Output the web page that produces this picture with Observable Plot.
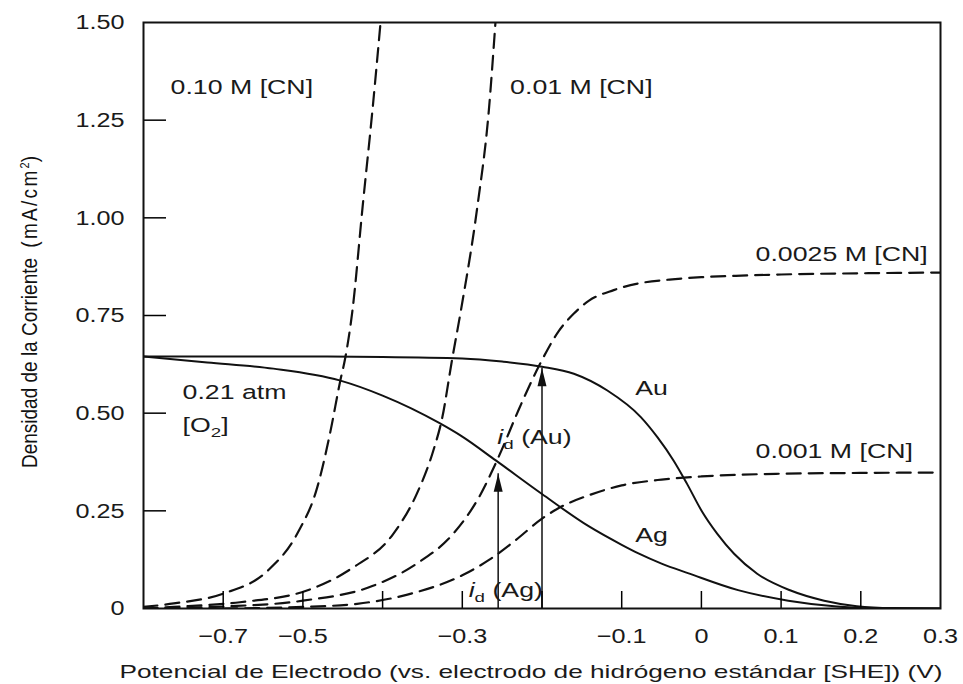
<!DOCTYPE html>
<html><head><meta charset="utf-8">
<script src="https://cdn.jsdelivr.net/npm/d3@7"></script>
<script src="https://cdn.jsdelivr.net/npm/@observablehq/plot@0.6"></script>
<style>
body{margin:0;background:#fff;}
#chart svg{background:#fff;}
#chart svg text{font-family:"Liberation Sans",Arial,Helvetica,sans-serif;}
</style>
</head><body><div id="chart"></div>
<script>
// ---- axis ticks & labels ----
const xTickValues = [-0.6, -0.5, -0.4, -0.3, -0.2, -0.1, 0, 0.1, 0.2];
const xLabelValues = [-0.6, -0.5, -0.3, -0.1, 0, 0.1, 0.2, 0.3];
const xLabelTexts = ["−0.7", "−0.5", "−0.3", "−0.1", "0", "0.1", "0.2", "0.3"];
const yTickValues = [0.25, 0.5, 0.75, 1.0, 1.25];
const yLabelValues = [0, 0.25, 0.5, 0.75, 1.0, 1.25, 1.5];
const yLabelTexts = ["0", "0.25", "0.50", "0.75", "1.00", "1.25", "1.50"];

// ---- O2 reduction curves (solid) ----
const auX = [-0.7, -0.6, -0.5, -0.4, -0.3, -0.25, -0.2, -0.16, -0.118, -0.076, -0.055, -0.035, -0.018, 0, 0.02, 0.041, 0.07, 0.112, 0.154, 0.195, 0.24, 0.3];
const auY = [0.645, 0.645, 0.645, 0.644, 0.64, 0.632, 0.619, 0.601, 0.558, 0.49, 0.438, 0.379, 0.319, 0.251, 0.191, 0.14, 0.089, 0.046, 0.02, 0.006, 0.001, 0];
const agX = [-0.7, -0.62, -0.537, -0.454, -0.4, -0.329, -0.3, -0.258, -0.2, -0.141, -0.1, -0.079, -0.05, -0.016, 0.046, 0.109, 0.17, 0.22, 0.3];
const agY = [0.645, 0.63, 0.614, 0.584, 0.545, 0.475, 0.44, 0.379, 0.293, 0.21, 0.163, 0.141, 0.115, 0.09, 0.047, 0.02, 0.005, 0.0, 0];

// ---- Au/Ag dissolution curves for [CN] (dashed) ----
const cn100X = [-0.7, -0.662, -0.6, -0.544, -0.507, -0.482, -0.466, -0.453, -0.447, -0.438, -0.425, -0.413, -0.4026, -0.39];
const cn100Y = [0.004, 0.013, 0.038, 0.097, 0.192, 0.31, 0.448, 0.584, 0.64, 0.76, 1.03, 1.27, 1.5, 1.8];
const cn010X = [-0.7, -0.662, -0.579, -0.495, -0.437, -0.387, -0.357, -0.337, -0.325, -0.313, -0.302, -0.281, -0.2667, -0.2584, -0.25];
const cn010Y = [0.0, 0.004, 0.016, 0.046, 0.105, 0.19, 0.294, 0.40, 0.49, 0.635, 0.76, 1.03, 1.275, 1.5, 1.75];
const cn0025X = [-0.7, -0.6, -0.5, -0.412, -0.357, -0.312, -0.279, -0.254, -0.229, -0.204, -0.179, -0.16, -0.141, -0.11, -0.079, -0.04, 0, 0.05, 0.1, 0.2, 0.3];
const cn0025Y = [0.0, 0.005, 0.02, 0.058, 0.115, 0.19, 0.285, 0.39, 0.51, 0.62, 0.71, 0.755, 0.788, 0.815, 0.832, 0.842, 0.848, 0.852, 0.855, 0.858, 0.86];
const cn0010X = [-0.6, -0.5, -0.432, -0.37, -0.3, -0.266, -0.233, -0.2, -0.18, -0.141, -0.1, -0.05, 0, 0.1, 0.2, 0.3];
const cn0010Y = [0.0, 0.004, 0.012, 0.035, 0.085, 0.125, 0.175, 0.23, 0.256, 0.29, 0.315, 0.33, 0.338, 0.345, 0.347, 0.348];

// ---- limiting-current arrows ----
const arrowNames = ["Au", "Ag"];
const arrowX = [-0.2, -0.255];
const arrowTip = [0.615, 0.345];

// ---- annotations ----
const annText = ["0.10 M [CN]", "0.01 M [CN]", "0.0025 M [CN]", "0.001 M [CN]", "0.21 atm", "[O_2]", "Au", "Ag", "i_d (Au)", "i_d (Ag)"];
const annX = [-0.666, -0.24, 0.068, 0.068, -0.651, -0.651, -0.083, -0.083, -0.256, -0.292];
const annY = [1.333, 1.333, 0.906, 0.40, 0.553, 0.468, 0.563, 0.187, 0.438, 0.046];

const xTitle = "Potencial de Electrodo (vs. electrodo de hidrógeno estándar [SHE]) (V)";
const yTitleMain = "Densidad de la Corriente";
const yTitleUnit = "(mA/cm";

// ---- build tables ----
const zip = (name, xs, ys) => xs.map((x, i) => ({name, x, y: ys[i]}));
const solid = [...zip("Au", auX, auY), ...zip("Ag", agX, agY)];
const dashed = [
  ...zip("0.10", cn100X, cn100Y),
  ...zip("0.01", cn010X, cn010Y),
  ...zip("0.0025", cn0025X, cn0025Y),
  ...zip("0.001", cn0010X, cn0010Y)
];
const arrows = arrowNames.map((n, i) => ({name: n, x: arrowX[i], tip: arrowTip[i]}));
const ann = annText.map((t, i) => ({text: t, x: annX[i], y: annY[i]}));
const xLabelMap = new Map(xLabelValues.map((v, i) => [v, xLabelTexts[i]]));
const yLabelMap = new Map(yLabelValues.map((v, i) => [v, yLabelTexts[i]]));

const arrowHead = {
  draw(ctx) { ctx.moveTo(0, 0); ctx.lineTo(4.5, 18); ctx.lineTo(-4.5, 18); ctx.closePath(); }
};

const ink = "#111";
const chart = Plot.plot({
  width: 963, height: 684,
  marginLeft: 143, marginRight: 23, marginTop: 22, marginBottom: 76,
  x: {domain: [-0.7, 0.3]},
  y: {domain: [0, 1.5]},
  marks: [
    Plot.line(dashed, {x: "x", y: "y", z: "name", curve: "monotone-x", stroke: ink, strokeWidth: 2.2, strokeDasharray: "14,8", clip: true}),
    Plot.line(solid, {x: "x", y: "y", z: "name", curve: "monotone-x", stroke: ink, strokeWidth: 2, clip: true}),
    Plot.ruleX(arrows, {x: "x", y1: 0, y2: "tip", stroke: ink, strokeWidth: 1.5}),
    Plot.dot(arrows, {x: "x", y: "tip", symbol: arrowHead, fill: ink, stroke: null, r: 5}),
    Plot.text(ann, {x: "x", y: "y", text: "text", textAnchor: "start", fontSize: 19.5, fill: "#1a1a1a"}),
    Plot.axisX(xTickValues, {tickSize: -17, tickFormat: () => "", strokeWidth: 1.5, label: null}),
    Plot.axisX(xLabelValues, {tickSize: 0, tickPadding: 20, tickFormat: d => xLabelMap.get(d), fontSize: 21, label: null}),
    Plot.axisY(yTickValues, {tickSize: -23, tickFormat: () => "", strokeWidth: 1.5, label: null}),
    Plot.axisY(yLabelValues, {tickSize: 0, tickPadding: 19, tickFormat: d => yLabelMap.get(d), fontSize: 21, label: null}),
    Plot.frame({stroke: ink, strokeWidth: 2})
  ]
});
document.getElementById("chart").appendChild(chart);

// horizontal stretch of the scanned lettering
const svg = d3.select(chart);
function stretch(sel, k) {
  sel.each(function () {
    const t = this.getAttribute("transform") || "";
    this.setAttribute("transform", t + ` scale(${k},1)`);
  });
}
stretch(svg.selectAll('g[aria-label="x-axis tick label"] text'), 1.2);
stretch(svg.selectAll('g[aria-label="y-axis tick label"] text'), 1.2);
svg.selectAll('g[aria-label="x-axis tick label"] text, g[aria-label="y-axis tick label"] text').attr("fill", "#1a1a1a");

// subscripts in annotations
const annSel = svg.selectAll('g[aria-label="text"] text');
annSel.each(function () {
  const s = this.textContent;
  if (!s.includes("_")) return;
  const m = s.match(/^(.*?)([A-Za-z])_(\w)(.*)$/);
  if (!m) return;
  while (this.firstChild) this.removeChild(this.firstChild);
  const el = d3.select(this);
  if (m[1]) el.append("tspan").text(m[1]);
  const base = el.append("tspan").text(m[2]);
  if (m[2] === "i") base.attr("font-style", "italic");
  el.append("tspan").attr("dy", 5).attr("font-size", "70%").text(m[3]);
  el.append("tspan").attr("dy", -5).text(m[4]);
});
stretch(annSel, 1.37);

// axis titles
svg.append("text")
  .attr("transform", "translate(531,678) scale(1.41,1)")
  .attr("text-anchor", "middle")
  .attr("font-size", 18.6)
  .attr("fill", "#1a1a1a")
  .text(xTitle);
const yt = svg.append("text")
  .attr("transform", "translate(37,468) rotate(-90) scale(1,1.14)")
  .attr("text-anchor", "start")
  .attr("font-size", 19)
  .attr("fill", "#111");
yt.append("tspan").text(yTitleMain + " ");
yt.append("tspan").attr("dx", 5).attr("font-size", 19).attr("letter-spacing", 2.3).text(yTitleUnit);
yt.append("tspan").attr("dy", -7).attr("font-size", 11).text("2");
yt.append("tspan").attr("dy", 7).attr("font-size", 19).text(")");
</script>
</body></html>
